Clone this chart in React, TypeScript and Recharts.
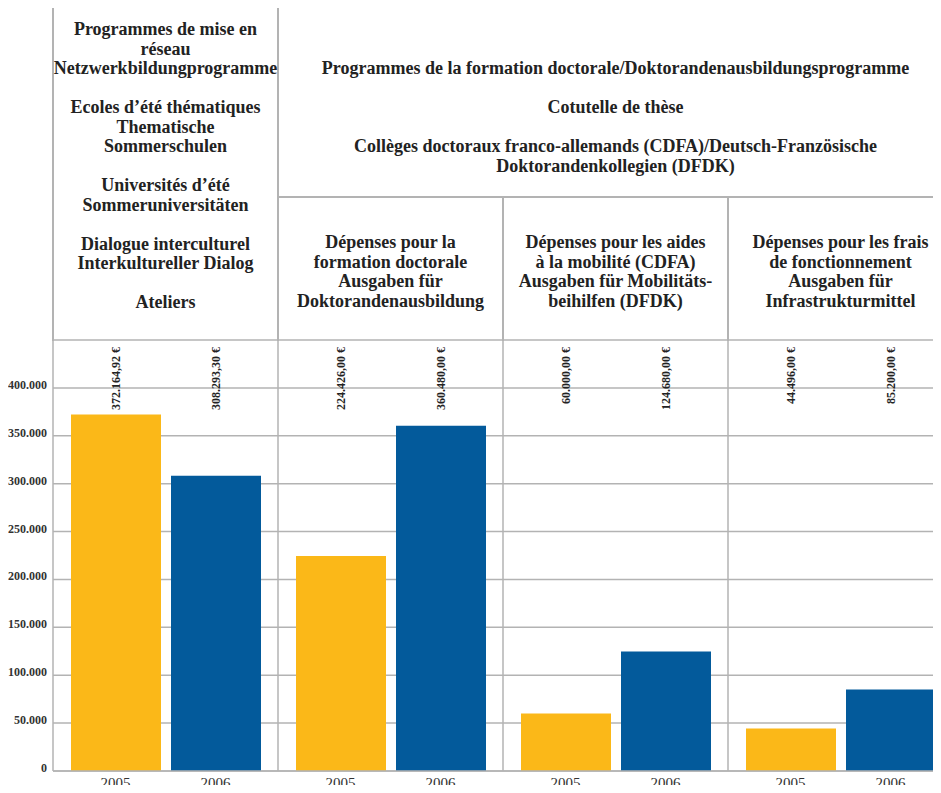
import React from "react";
import { BarChart, Bar, XAxis, YAxis, CartesianGrid, LabelList } from "recharts";

const categories = ["Netzwerk", "Formation", "Mobilite", "Infrastruktur"];
const values2005 = [372164.92, 224426, 60000, 44496];
const values2006 = [308293.3, 360480, 124680, 85200];
const years = ["2005", "2006"];
const yTicks = [0, 50000, 100000, 150000, 200000, 250000, 300000, 350000, 400000, 450000];

const leftHeader =
  "Programmes de mise en\nréseau\nNetzwerkbildungprogramme\n\nEcoles d’été thématiques\nThematische\nSommerschulen\n\nUniversités d’été\nSommeruniversitäten\n\nDialogue interculturel\nInterkultureller Dialog\n\nAteliers";
const rightHeader =
  "Programmes de la formation doctorale/Doktorandenausbildungsprogramme\n\nCotutelle de thèse\n\nCollèges doctoraux franco-allemands (CDFA)/Deutsch-Französische\nDoktorandenkollegien (DFDK)";
const subHeaders = [
  "Dépenses pour la\nformation doctorale\nAusgaben für\nDoktorandenausbildung",
  "Dépenses pour les aides\nà la mobilité (CDFA)\nAusgaben für Mobilitäts-\nbeihilfen (DFDK)",
  "Dépenses pour les frais\nde fonctionnement\nAusgaben für\nInfrastrukturmittel",
];

const data = categories.map((c, i) => ({
  name: c,
  y2005: values2005[i],
  y2006: values2006[i],
}));

const YELLOW = "#FBB818";
const BLUE = "#035A9B";
const GRID = "#b3b3b3";
const FONT = "'Liberation Serif', 'Times New Roman', serif";

// layout (page coordinates)
const W = 960;
const H = 793;
const PLOT_LEFT = 53;
const PLOT_TOP = 340;
const CAT_W = 225;
const BAR = 90;
const GAP = 10;

const dotted = (n: number) => String(Math.round(n)).replace(/\B(?=(\d{3})+(?!\d))/g, ".");
const euro = (v: number) => {
  const [i, d] = v.toFixed(2).split(".");
  return i.replace(/\B(?=(\d{3})+(?!\d))/g, ".") + "," + d + " €";
};

const ValueLabel = (props: any) => {
  const { x, width, value } = props;
  const cx = x + width / 2;
  const y = PLOT_TOP + 7;
  return (
    <text
      x={cx}
      y={y}
      transform={`rotate(-90, ${cx}, ${y})`}
      textAnchor="end"
      dominantBaseline="central"
      fontFamily={FONT}
      fontWeight="bold"
      fontSize={12}
      fill="#222"
    >
      {euro(value)}
    </text>
  );
};

const YearTick = (props: any) => {
  const { x, y } = props;
  const d = (BAR + GAP) / 2;
  return (
    <g>
      {years.map((yr, i) => (
        <text
          key={yr}
          x={x + (i === 0 ? -d : d)}
          y={y + 4}
          textAnchor="middle"
          dominantBaseline="central"
          fontFamily={FONT}
          fontSize={15}
          fill="#333"
        >
          {yr}
        </text>
      ))}
    </g>
  );
};

const ValueTick = (props: any) => {
  const { x, y, payload } = props;
  if (payload.value === 450000) return null;
  return (
    <text
      x={x + 2}
      y={y - 3}
      textAnchor="end"
      dominantBaseline="central"
      fontFamily={FONT}
      fontWeight="bold"
      fontSize={12}
      fill="#333"
    >
      {dotted(payload.value)}
    </text>
  );
};

const line = (left: number, top: number, width: number, height: number) => (
  <div
    style={{
      position: "absolute",
      left: left - 0.75,
      top: top - 0.75,
      width: width + 1.5,
      height: height + 1.5,
      background: GRID,
    }}
  />
);

const textBlock: React.CSSProperties = {
  position: "absolute",
  whiteSpace: "pre-line",
  textAlign: "center",
  fontFamily: FONT,
  fontWeight: "bold",
  fontSize: 18,
  lineHeight: "19.5px",
  color: "#222",
};

export default function App() {
  return (
    <div style={{ position: "relative", margin: -8, width: 941, height: 793, overflow: "hidden" }}>
      <div style={{ position: "absolute", left: 0, top: 0, width: W, height: H }}>
        <BarChart
          width={W}
          height={H}
          data={data}
          margin={{ top: PLOT_TOP, right: W - PLOT_LEFT - CAT_W * 4, bottom: 0, left: 0 }}
          barSize={BAR}
          barGap={GAP}
        >
          <CartesianGrid
            stroke={GRID}
            strokeWidth={1.5}
            verticalCoordinatesGenerator={({ offset }: any) =>
              [1, 2, 3].map((i) => offset.left + (i * offset.width) / categories.length)
            }
          />
          <XAxis
            dataKey="name"
            height={22}
            tickLine={false}
            axisLine={{ stroke: GRID, strokeWidth: 1.5 }}
            tick={<YearTick />}
            interval={0}
          />
          <YAxis
            width={PLOT_LEFT}
            domain={[0, 450000]}
            ticks={yTicks}
            interval={0}
            tickLine={false}
            axisLine={{ stroke: GRID, strokeWidth: 1.5 }}
            tick={<ValueTick />}
          />
          <Bar dataKey="y2005" fill={YELLOW} isAnimationActive={false}>
            <LabelList dataKey="y2005" content={<ValueLabel />} />
          </Bar>
          <Bar dataKey="y2006" fill={BLUE} isAnimationActive={false}>
            <LabelList dataKey="y2006" content={<ValueLabel />} />
          </Bar>
        </BarChart>

        <div style={{ position: "absolute", left: 0, top: 0, width: W, height: H, pointerEvents: "none" }}>
          {line(PLOT_LEFT, 7, W - PLOT_LEFT, 0)}
          {line(PLOT_LEFT, 7, 0, PLOT_TOP - 7)}
          {line(PLOT_LEFT + CAT_W, 7, 0, PLOT_TOP - 7)}
          {line(PLOT_LEFT + CAT_W, 197, W - PLOT_LEFT - CAT_W, 0)}
          {line(PLOT_LEFT + CAT_W * 2, 197, 0, PLOT_TOP - 197)}
          {line(PLOT_LEFT + CAT_W * 3, 197, 0, PLOT_TOP - 197)}

          <div style={{ ...textBlock, left: PLOT_LEFT - 10, width: CAT_W + 20, top: 20 }}>{leftHeader}</div>
          <div style={{ ...textBlock, left: PLOT_LEFT + CAT_W, width: CAT_W * 3, top: 59 }}>{rightHeader}</div>
          {subHeaders.map((t, i) => (
            <div
              key={i}
              style={{ ...textBlock, left: PLOT_LEFT + CAT_W * (i + 1), width: CAT_W, top: 233 }}
            >
              {t}
            </div>
          ))}
        </div>
      </div>
    </div>
  );
}
